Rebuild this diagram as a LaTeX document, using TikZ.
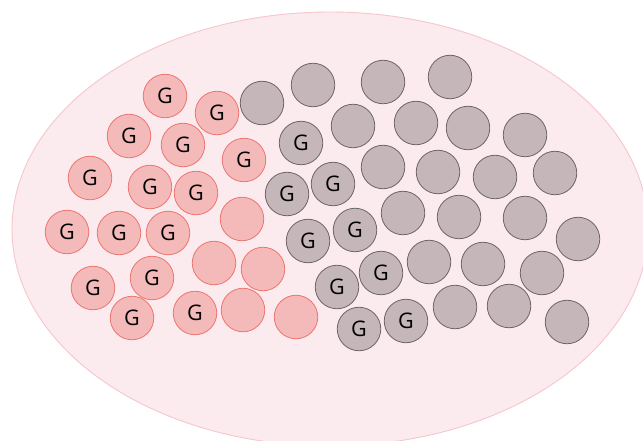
\documentclass[tikz,border=0pt]{standalone}
\usepackage{fontspec}
\setmainfont{Open Sans}
\definecolor{ellfill}{HTML}{FBEAEE}
\definecolor{elldraw}{HTML}{F6C6CD}
\definecolor{redfill}{HTML}{F4BABA}
\definecolor{reddraw}{HTML}{EF7570}
\definecolor{grayfill}{HTML}{C5B6B9}
\definecolor{graydraw}{HTML}{6E6669}
\begin{document}
\begin{tikzpicture}[x=1pt,y=-1pt,
  cell/.style={circle,minimum size=43.5pt,inner sep=0pt,line width=0.8pt,
    font=\fontsize{21.5}{21.5}\selectfont},
  rcell/.style={cell,fill=redfill,draw=reddraw},
  gcell/.style={cell,fill=grayfill,draw=graydraw}]
\clip (0,0) rectangle (643,441);
\draw[fill=ellfill,draw=elldraw,line width=0.9pt] (330,229) ellipse [x radius=318, y radius=217];
% red cells with G
\node[rcell] (r1) at (165,96) {G};
\node[rcell] (r2) at (217,113) {G};
\node[rcell] (r3) at (129,136) {G};
\node[rcell] (r4) at (183,145) {G};
\node[rcell] (r5) at (244,160) {G};
\node[rcell] (r6) at (90,178) {G};
\node[rcell] (r7) at (150,187) {G};
\node[rcell] (r8) at (196,193) {G};
\node[rcell] (r9) at (67,232) {G};
\node[rcell] (r10) at (119,233) {G};
\node[rcell] (r11) at (168,233) {G};
\node[rcell] (r12) at (93,288) {G};
\node[rcell] (r13) at (152,278) {G};
\node[rcell] (r14) at (132,318) {G};
\node[rcell] (r15) at (195,313) {G};
% red cells without G
\node[rcell] (r16) at (242,219) {};
\node[rcell] (r17) at (214,263) {};
\node[rcell] (r18) at (263,269) {};
\node[rcell] (r19) at (243,310) {};
\node[rcell] (r20) at (296,317) {};
% gray cells with G
\node[gcell] (g1) at (301,143) {G};
\node[gcell] (g2) at (287,194) {G};
\node[gcell] (g3) at (333,184) {G};
\node[gcell] (g4) at (308,241) {G};
\node[gcell] (g5) at (355,230) {G};
\node[gcell] (g6) at (337,287) {G};
\node[gcell] (g7) at (381,273) {G};
\node[gcell] (g8) at (359,329) {G};
\node[gcell] (g9) at (406,321) {G};
% gray cells without G
\node[gcell] (g10) at (262,103) {};
\node[gcell] (g11) at (313,85) {};
\node[gcell] (g12) at (383,82) {};
\node[gcell] (g13) at (450,77) {};
\node[gcell] (g14) at (353,126) {};
\node[gcell] (g15) at (416,123) {};
\node[gcell] (g16) at (468,128) {};
\node[gcell] (g17) at (525,135) {};
\node[gcell] (g18) at (383,167) {};
\node[gcell] (g19) at (438,172) {};
\node[gcell] (g20) at (495,177) {};
\node[gcell] (g21) at (555,173) {};
\node[gcell] (g22) at (403,213) {};
\node[gcell] (g23) at (459,217) {};
\node[gcell] (g24) at (525,218) {};
\node[gcell] (g25) at (578,239) {};
\node[gcell] (g26) at (429,262) {};
\node[gcell] (g27) at (483,264) {};
\node[gcell] (g28) at (542,273) {};
\node[gcell] (g29) at (455,307) {};
\node[gcell] (g30) at (509,306) {};
\node[gcell] (g31) at (567,322) {};
\end{tikzpicture}
\end{document}
